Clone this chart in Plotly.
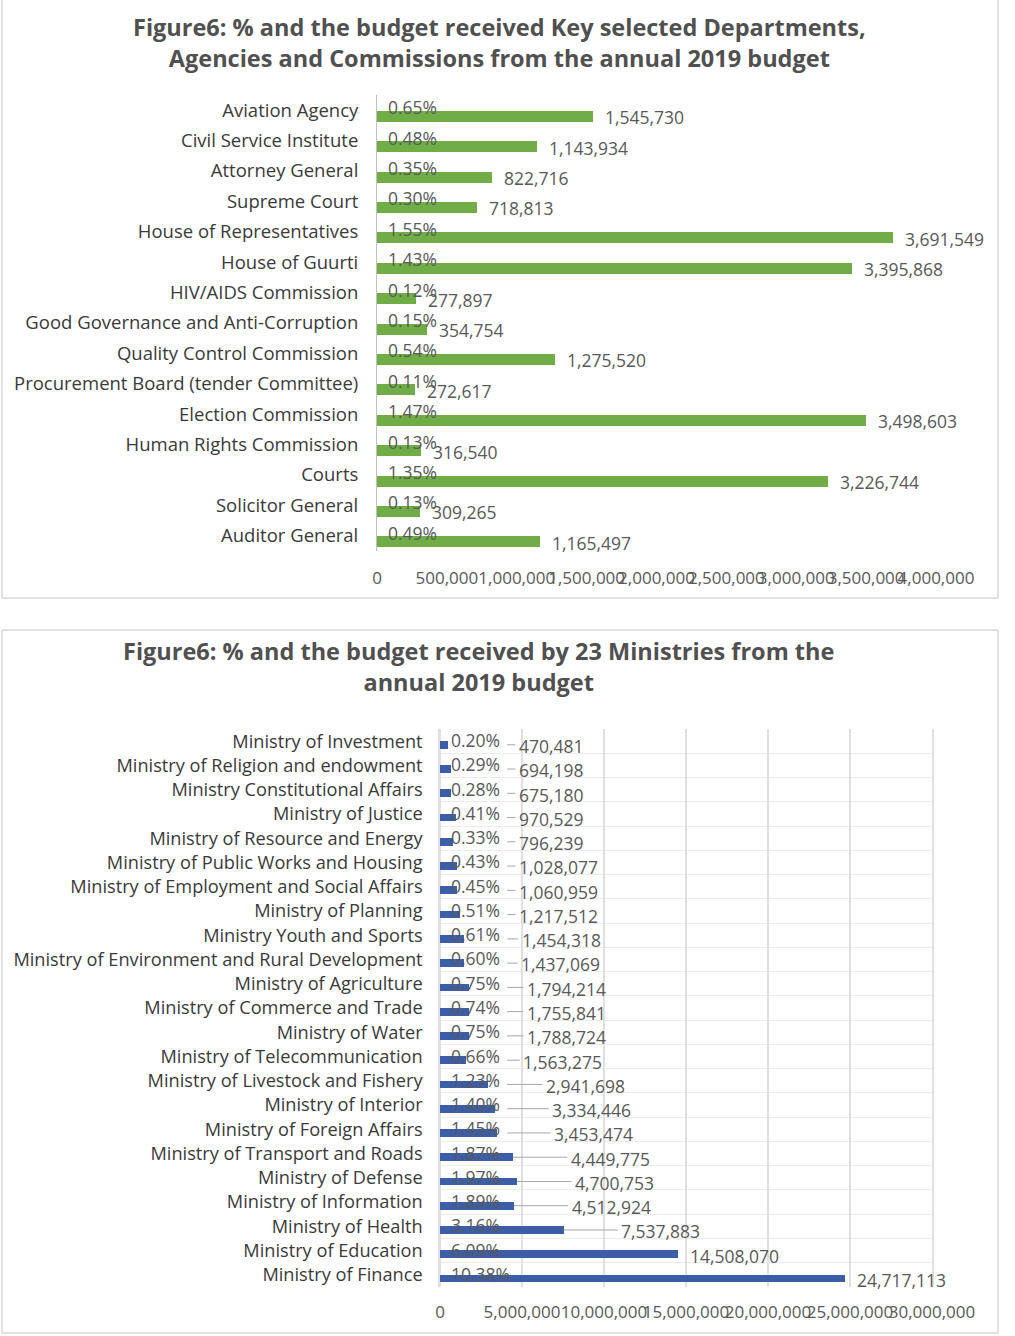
import plotly.graph_objects as go

# ---------------- data ----------------
dept_names = [
    "Aviation Agency", "Civil Service Institute", "Attorney General", "Supreme Court",
    "House of Representatives", "House of Guurti", "HIV/AIDS Commission",
    "Good Governance and Anti-Corruption", "Quality Control Commission",
    "Procurement Board (tender Committee)", "Election Commission",
    "Human Rights Commission", "Courts", "Solicitor General", "Auditor General",
]
dept_pct = [0.65, 0.48, 0.35, 0.30, 1.55, 1.43, 0.12, 0.15, 0.54, 0.11, 1.47, 0.13, 1.35, 0.13, 0.49]
dept_values = [1545730, 1143934, 822716, 718813, 3691549, 3395868, 277897, 354754,
               1275520, 272617, 3498603, 316540, 3226744, 309265, 1165497]

min_names = [
    "Ministry of Investment", "Ministry of Religion and endowment",
    "Ministry Constitutional Affairs", "Ministry of Justice",
    "Ministry of Resource and Energy", "Ministry of Public Works and Housing",
    "Ministry of Employment and Social Affairs", "Ministry of Planning",
    "Ministry Youth and Sports", "Ministry of Environment and Rural Development",
    "Ministry of Agriculture", "Ministry of Commerce and Trade", "Ministry of Water",
    "Ministry of Telecommunication", "Ministry of Livestock and Fishery",
    "Ministry of Interior", "Ministry of Foreign Affairs",
    "Ministry of Transport and Roads", "Ministry of Defense", "Ministry of Information",
    "Ministry of Health", "Ministry of Education", "Ministry of Finance",
]
min_pct = [0.20, 0.29, 0.28, 0.41, 0.33, 0.43, 0.45, 0.51, 0.61, 0.60, 0.75, 0.74, 0.75,
           0.66, 1.23, 1.40, 1.45, 1.87, 1.97, 1.89, 3.16, 6.09, 10.38]
min_values = [470481, 694198, 675180, 970529, 796239, 1028077, 1060959, 1217512, 1454318,
              1437069, 1794214, 1755841, 1788724, 1563275, 2941698, 3334446, 3453474,
              4449775, 4700753, 4512924, 7537883, 14508070, 24717113]

title_top = "Figure6: % and the budget received Key selected Departments,<br>Agencies and Commissions from the annual 2019 budget"
title_bottom = "Figure6: % and the budget received by 23 Ministries from the<br>annual 2019 budget"

# ---------------- layout helpers ----------------
W, H = 1015, 1336
FONT = "Open Sans"
LABEL_C = "#3a3a3a"
TEXT_C = "#595959"
LBL_SIZE = 17.5


def px(x):
    return x / W


def py(y):
    return 1 - y / H


fig = go.Figure()
annotations = []

# ---------------- top chart ----------------
n1 = len(dept_names)
pos1 = list(range(n1))
w1, sh1 = 0.36, 0.2
fig.add_trace(go.Bar(
    x=dept_values, y=pos1, orientation="h", marker_color="#70AD47",
    width=w1, offset=-w1 / 2 + sh1, xaxis="x", yaxis="y", hoverinfo="skip",
))
for i, (p, v) in enumerate(zip(dept_pct, dept_values)):
    annotations.append(dict(x=0, y=i, xref="x", yref="y", text=f"{p:.2f}%",
                            showarrow=False, xanchor="left", xshift=9, yshift=3,
                            font=dict(family=FONT, size=LBL_SIZE, color=TEXT_C)))
    annotations.append(dict(x=v, y=i, xref="x", yref="y", text=f"{v:,}",
                            showarrow=False, xanchor="left", xshift=10, yshift=-7,
                            font=dict(family=FONT, size=LBL_SIZE, color=TEXT_C)))

# ---------------- bottom chart ----------------
n2 = len(min_names)
pos2 = list(range(n2))
w2, sh2 = 0.32, 0.15
fig.add_trace(go.Bar(
    x=min_values, y=pos2, orientation="h", marker_color="#3B5EA6",
    width=w2, offset=-w2 / 2 + sh2, xaxis="x2", yaxis="y2", hoverinfo="skip",
))
lead_x, lead_y = [], []
for i, (p, v) in enumerate(zip(min_pct, min_values)):
    annotations.append(dict(x=0, y=i, xref="x2", yref="y2", text=f"{p:.2f}%",
                            showarrow=False, xanchor="left", xshift=9, yshift=1,
                            font=dict(family=FONT, size=LBL_SIZE, color=TEXT_C)))
    if v < 10_000_000:
        lx = max(v + 3.4e6, 4.7e6)
        lead_x += [max(v, 4.1e6), lx - 0.1e6, None]
        lead_y += [i + sh2, i + sh2, None]
        annotations.append(dict(x=lx, y=i, xref="x2", yref="y2", text=f"{v:,}",
                                showarrow=False, xanchor="left", xshift=0, yshift=-5,
                                font=dict(family=FONT, size=LBL_SIZE, color=TEXT_C)))
    else:
        annotations.append(dict(x=v, y=i, xref="x2", yref="y2", text=f"{v:,}",
                                showarrow=False, xanchor="left", xshift=10, yshift=-5,
                                font=dict(family=FONT, size=LBL_SIZE, color=TEXT_C)))
fig.add_trace(go.Scatter(x=lead_x, y=lead_y, mode="lines", xaxis="x2", yaxis="y2",
                         line=dict(color="#a6a6a6", width=1), hoverinfo="skip"))

# ---------------- titles ----------------
annotations.append(dict(x=px(499), y=py(43), xref="paper", yref="paper",
                        text=f"<b>{title_top}</b>", showarrow=False,
                        xanchor="center", yanchor="middle",
                        font=dict(family=FONT, size=23.5, color="#505050")))
annotations.append(dict(x=px(478), y=py(666), xref="paper", yref="paper",
                        text=f"<b>{title_bottom}</b>", showarrow=False,
                        xanchor="center", yanchor="middle",
                        font=dict(family=FONT, size=23.5, color="#505050")))

shapes = [
    dict(type="rect", xref="paper", yref="paper", x0=px(2), x1=px(998), y0=py(598), y1=py(-2),
         line=dict(color="#d9d9d9", width=1.5), fillcolor="rgba(0,0,0,0)", layer="below"),
    dict(type="rect", xref="paper", yref="paper", x0=px(2), x1=px(998), y0=py(1333), y1=py(630),
         line=dict(color="#d9d9d9", width=1.5), fillcolor="rgba(0,0,0,0)", layer="below"),
]

fig.update_layout(
    template="none",
    width=W, height=H, margin=dict(l=0, r=0, t=0, b=0, autoexpand=False),
    paper_bgcolor="white", plot_bgcolor="white", showlegend=False,
    font=dict(family=FONT, color=TEXT_C),
    annotations=annotations, shapes=shapes, bargap=0,
    xaxis=dict(domain=[px(377), px(936)], anchor="y", range=[0, 4_000_000], dtick=500_000,
               tickformat=",", showgrid=False, zeroline=False, showline=False, automargin=False,
               ticks="outside", ticklen=12, tickcolor="rgba(0,0,0,0)", tickangle=0,
               tickfont=dict(family=FONT, size=17, color=TEXT_C), fixedrange=True),
    yaxis=dict(domain=[py(551), py(95)], anchor="x", range=[n1 - 0.5, -0.5], automargin=False,
               tickmode="array", tickvals=pos1, ticktext=dept_names,
               showgrid=False, zeroline=False, showline=True, linecolor="#bfbfbf", linewidth=1,
               ticks="outside", ticklen=14, tickcolor="rgba(0,0,0,0)",
               tickfont=dict(family=FONT, size=18.5, color=LABEL_C), fixedrange=True),
    xaxis2=dict(domain=[px(440), px(932)], anchor="y2", range=[0, 30_000_000], dtick=5_000_000,
                tickformat=",", showgrid=True, gridcolor="#e0e0e0", gridwidth=1.5, automargin=False,
                zeroline=True, zerolinecolor="#e0e0e0", zerolinewidth=1.5, showline=False,
                ticks="outside", ticklen=10, tickcolor="rgba(0,0,0,0)", tickangle=0,
                tickfont=dict(family=FONT, size=17, color=TEXT_C), fixedrange=True),
    yaxis2=dict(domain=[py(1287), py(729)], anchor="x2", range=[n2 - 0.5, -0.5], automargin=False,
                tickmode="array", tickvals=pos2, ticktext=min_names,
                showgrid=False, zeroline=False, showline=True, mirror=True,
                linecolor="#e0e0e0", linewidth=1.5,
                ticks="outside", ticklen=12, tickcolor="rgba(0,0,0,0)",
                minor=dict(tickmode="linear", tick0=-0.5, dtick=1, showgrid=True,
                           gridcolor="#ececec", gridwidth=1, ticks=""),
                tickfont=dict(family=FONT, size=18.2, color=LABEL_C), fixedrange=True),
)

fig.write_html("out.html", post_script="document.body.style.margin='0';",
               config={"displayModeBar": False})
